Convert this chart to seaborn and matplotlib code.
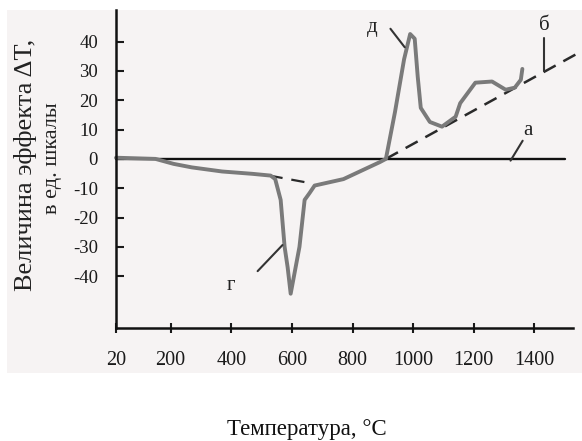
import numpy as np
import pandas as pd
import matplotlib
matplotlib.use("Agg")
import matplotlib.pyplot as plt
import seaborn as sns
from matplotlib.patches import Rectangle

# ---- data ----
curve_t = [20, 150, 210, 270, 370, 470, 530, 545, 563, 576, 586, 596, 625, 642, 658, 675,
           770, 890, 910, 940, 970, 990, 1005, 1015, 1025, 1055, 1095, 1140, 1155, 1205,
           1260, 1305, 1335, 1355, 1360]
curve_v = [0.4, 0, -1.7, -2.9, -4.3, -5.1, -5.7, -6.9, -14, -30, -37, -46, -30, -14, -11.7, -9.1,
           -6.9, -1.1, 0, 16, 34, 42.6, 41, 28, 17.4, 12.6, 11, 14.4, 19, 26,
           26.4, 23.6, 24.3, 27, 30.7]
line_a_t = [20, 1502]
line_a_v = [0, 0]
base_dip_t = [526, 662]
base_dip_v = [-5.7, -8.3]
line_b_t = [910, 1560]
line_b_v = [0, 37]
x_ticks = [20, 200, 400, 600, 800, 1000, 1200, 1400]
y_ticks = [40, 30, 20, 10, 0, -10, -20, -30, -40]
labels = ["д", "б", "а", "г"]
label_t = [866, 1433, 1377, 398]
label_v = [44.8, 45.6, 9.6, -43.1]
leader_t = [(925, 972), (1433, 1433), (1361, 1321), (487, 569)]
leader_v = [(44.4, 38.1), (41.1, 30.0), (6.2, -0.6), (-38.3, -29.4)]

sns.set_theme(style="white")
plt.rcParams['font.family'] = ['Liberation Serif', 'DejaVu Serif']
plt.rcParams['axes.unicode_minus'] = False

fig = plt.figure(figsize=(5.82, 4.41), dpi=100)
fig.patch.set_facecolor("white")
fig.patches.append(Rectangle((7 / 582, 1 - 373 / 441), 575 / 582, 363 / 441,
                             transform=fig.transFigure,
                             facecolor="#f6f3f3", edgecolor="none", zorder=-10))
ax = fig.add_axes([116 / 582, 1 - 328 / 441, (573 - 116) / 582, (328 - 10) / 441])
ax.set_facecolor("none")

df_curve = pd.DataFrame({"T": curve_t, "v": curve_v})
df_a = pd.DataFrame({"T": line_a_t, "v": line_a_v})
df_dip = pd.DataFrame({"T": base_dip_t, "v": base_dip_v})
df_b = pd.DataFrame({"T": line_b_t, "v": line_b_v})

sns.lineplot(data=df_a, x="T", y="v", ax=ax, color="#111111", lw=1.7, sort=False, estimator=None)
sns.lineplot(data=df_dip, x="T", y="v", ax=ax, color="#2a2a2a", lw=1.6, sort=False,
             estimator=None, linestyle=(0, (6, 4)))
sns.lineplot(data=df_b, x="T", y="v", ax=ax, color="#2a2a2a", lw=1.8, sort=False,
             estimator=None, linestyle=(0, (5.5, 3.5)))
sns.lineplot(data=df_curve, x="T", y="v", ax=ax, color="#7a7a7a", lw=2.8, sort=False,
             estimator=None)
for ln in ax.lines:
    ln.set_clip_on(False)
    ln.set_solid_joinstyle("round")

for lab, t, v, lt, lv in zip(labels, label_t, label_v, leader_t, leader_v):
    ax.text(t, v, lab, fontsize=15, ha="center", va="center", color="#222222")
    ax.plot(lt, lv, color="#333333", lw=1.5, clip_on=False)

ax.set_xlim(20, 1527)
ax.set_ylim(-57.7, 50.8)
ax.set_xticks(x_ticks)
ax.set_xticklabels([str(t) for t in x_ticks])
ax.set_yticks(y_ticks)
ax.set_yticklabels([str(t) for t in y_ticks])
ax.tick_params(axis="x", direction="inout", length=7, width=1.5, pad=13, labelsize=14.5,
               colors="#1a1a1a", bottom=True)
ax.tick_params(axis="y", direction="in", length=6, width=1.5, pad=13, labelsize=13.5,
               colors="#1a1a1a", left=True)
for s in ["top", "right"]:
    ax.spines[s].set_visible(False)
for s in ["left", "bottom"]:
    ax.spines[s].set_color("#111111")
    ax.spines[s].set_linewidth(1.8)
ax.set_xlabel("")
ax.set_ylabel("")

fig.text(26 / 582, 1 - 165 / 441, "Величина эффекта ΔT,", rotation=90, ha="center", va="center",
         fontsize=19, color="#222222")
fig.text(52 / 582, 1 - 158 / 441, "в ед. шкалы", rotation=90, ha="center", va="center",
         fontsize=16, color="#222222")
fig.text(307 / 582, 1 - 429 / 441, "Температура, °С", ha="center", va="center",
         fontsize=16.5, color="#111111")

fig.savefig("out.png", dpi=100)
